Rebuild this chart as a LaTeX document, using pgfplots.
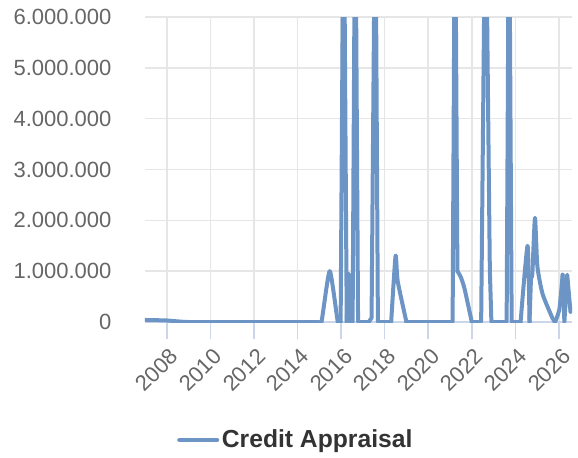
\documentclass[border=0pt]{standalone}
\usepackage{fontspec}
\setmainfont{Liberation Sans}
\usepackage{pgfplots}
\pgfplotsset{compat=1.18}
\definecolor{linec}{HTML}{6C94C4}
\definecolor{gridc}{HTML}{E6E6E6}
\definecolor{axisc}{HTML}{CCD6EB}
\definecolor{labc}{HTML}{666666}
\definecolor{legc}{HTML}{333333}
\pgfplotsset{cr/.style={draw=linec, line width=3pt, line join=round, line cap=round, tension=0.35, mark=none}}
\begin{document}
\begin{tikzpicture}
\path[use as bounding box] (-108.75pt,-101.25pt) rectangle (324.75pt,241.5pt);
\begin{axis}[
  at={(0,0)}, anchor=south west,
  scale only axis, width=320.25pt, height=228.75pt,
  xmin=2007, xmax=2026.6, ymin=0, ymax=6000000,
  xtick={2008,2010,2012,2014,2016,2018,2020,2022,2024,2026},
  xticklabels={2008,2010,2012,2014,2016,2018,2020,2022,2024,2026},
  ytick={0,1000000,2000000,3000000,4000000,5000000,6000000},
  yticklabels={0,1.000.000,2.000.000,3.000.000,4.000.000,5.000.000,6.000.000},
  axis x line*=bottom, axis y line*=left,
  y axis line style={draw=none},
  x axis line style={-, axisc, line width=1.2pt},
  ytick style={draw=none},
  xtick style={axisc, line width=1.2pt},
  major tick length=13pt, tick align=outside,
  grid=major, major grid style={gridc, line width=1.1pt},
  scaled y ticks=false,
  yticklabel style={font=\fontsize{16.5}{18}\selectfont, text=labc, anchor=east, inner sep=0pt, xshift=-12pt},
  xticklabel style={font=\fontsize{16.5}{18}\selectfont, text=labc, rotate=45, anchor=north east, inner sep=0pt, xshift=-3pt, yshift=-5pt},
  legend style={at={(0.354,-0.387)}, anchor=center, draw=none, fill=none,
    font=\bfseries\fontsize{18.5}{20}\selectfont, text=legc},
  legend image code/.code={\draw[draw=linec, line width=3pt, line cap=butt] (0pt,0pt) -- (24pt,0pt); \path (0pt,0pt) -- (28.5pt,0pt);},
  clip=true,
]
\addplot[cr, smooth] coordinates {
(2007.0,40000) (2008.0,30000) (2009.0,0) (2012.0,0) (2014.9,0) (2015.1,0)
(2015.48,1000000) (2015.85,0) (2015.98,0)
};
\addlegendentry{Credit Appraisal}
\addplot[cr, sharp plot, forget plot] coordinates {
(2015.98,0) (2016.12,9000000) (2016.26,0)
};
\addplot[cr, smooth, forget plot] coordinates {
(2016.26,0) (2016.35,950000) (2016.46,0)
};
\addplot[cr, sharp plot, forget plot] coordinates {
(2016.46,0) (2016.53,0) (2016.65,9000000) (2016.78,0) (2017.27,0) (2017.4,80000) (2017.57,9000000) (2017.69,0) (2018.3,0)
};
\addplot[cr, smooth, forget plot] coordinates {
(2018.3,0) (2018.5,1300000) (2018.6,800000) (2019.0,0)
};
\addplot[cr, sharp plot, forget plot] coordinates {
(2019.0,0) (2021.12,0) (2021.23,9000000) (2021.34,1000000)
};
\addplot[cr, smooth, forget plot] coordinates {
(2021.34,1000000) (2021.5,880000) (2021.67,650000) (2022.0,0)
};
\addplot[cr, sharp plot, forget plot] coordinates {
(2022.0,0) (2022.43,0) (2022.63,9000000) (2022.82,1350000) (2022.83,1000000) (2022.9,0)
(2023.6,0) (2023.71,9000000) (2023.83,0) (2024.24,0)
};
\addplot[cr, smooth, forget plot] coordinates {
(2024.24,0) (2024.56,1500000) (2024.65,0)
};
\addplot[cr, sharp plot, forget plot] coordinates {
(2024.65,0) (2024.72,900000)
};
\addplot[cr, smooth, forget plot] coordinates {
(2024.72,900000) (2024.78,950000) (2024.9,2050000) (2025.01,1100000) (2025.25,550000) (2025.7,80000) (2025.82,0)
};
\addplot[cr, smooth, forget plot] coordinates {
(2025.82,0) (2026.02,250000) (2026.17,930000)
};
\addplot[cr, sharp plot, forget plot] coordinates {
(2026.17,930000) (2026.25,0) (2026.38,930000) (2026.53,200000)
};
\end{axis}
\end{tikzpicture}
\end{document}
